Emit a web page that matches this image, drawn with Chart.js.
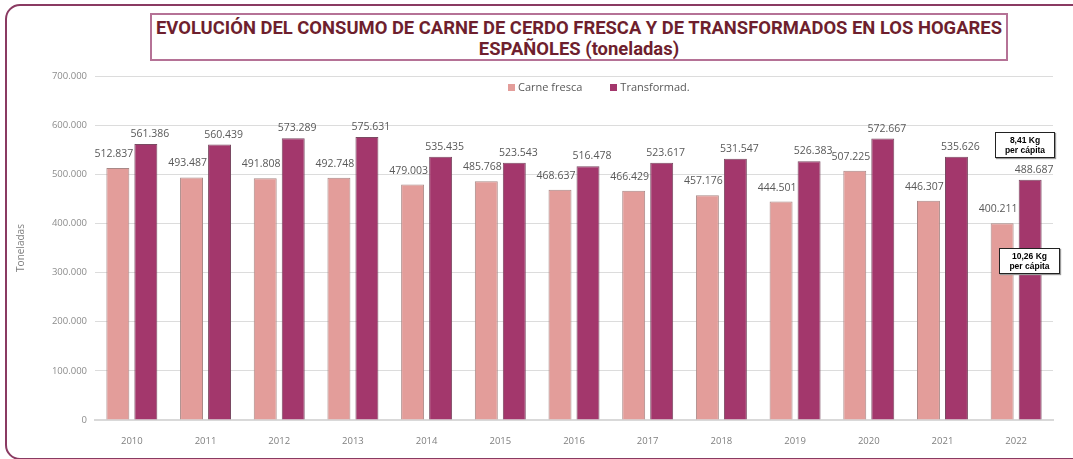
<!DOCTYPE html>
<html>
<head>
<meta charset="utf-8">
<script src="https://cdn.jsdelivr.net/npm/chart.js@4.4.1/dist/chart.umd.min.js"></script>
<style>
  html, body { margin: 0; padding: 0; background: #fff; }
  #wrap { position: relative; width: 1073px; height: 459px; overflow: hidden; }
  #frame {
    position: absolute; left: 5px; top: 4px; width: 1120px; height: 452px;
    border: 2px solid #8a3a62; border-radius: 15px;
  }
  #title {
    position: absolute; left: 150px; top: 13px; width: 854px; height: 44px;
    border: 2px solid #b57296; background: #fff; overflow: hidden;
  }
  #titleText {
    position: absolute; left: 50%; top: 2px; width: max-content;
    font-family: Roboto, "Liberation Sans", sans-serif;
    font-weight: bold; font-size: 19px; line-height: 21px; color: #6e1f2e;
    text-align: center; white-space: nowrap; transform-origin: 0 0;
    transform: translateX(-50%);
  }
  #legend {
    position: absolute; left: 508px; top: 79px;
    font-family: "Open Sans", sans-serif; font-size: 11px; color: #595959;
  }
  #legend span.item { margin-right: 28px; }
  #legend i { display: inline-block; width: 7px; height: 7px; margin-right: 3px; vertical-align: 0px; }
  .note {
    position: absolute; background: #fff; border: 1px solid #222;
    font-family: "Liberation Sans", Arial, sans-serif; font-weight: bold;
    font-size: 8.5px; line-height: 10px; text-align: center; color: #000;
    box-shadow: 1px 1px 1px #999;
  }
  canvas { position: absolute; left: 0; top: 0; }
</style>
</head>
<body>
<div id="wrap">
  <div id="frame"></div>
  <canvas id="chart" width="1073" height="459"></canvas>
  <div id="title"><div id="titleText"><span id="t1">EVOLUCIÓN DEL CONSUMO DE CARNE DE CERDO FRESCA Y DE TRANSFORMADOS EN LOS HOGARES</span><br>ESPAÑOLES (toneladas)</div></div>
  <div id="legend"></div>
  <div class="note" style="left:995px; top:132px; width:58px; height:22px; padding-top:2px;">8,41 Kg<br>per cápita</div>
  <div class="note" style="left:999px; top:248px; width:59px; height:22px; padding-top:2px;">10,26 Kg<br>per cápita</div>
</div>
<script>
// --- Data ---
const years = ['2010', '2011', '2012', '2013', '2014', '2015', '2016', '2017', '2018', '2019', '2020', '2021', '2022'];
const carneFresca = [512837, 493487, 491808, 492748, 479003, 485768, 468637, 466429, 457176, 444501, 507225, 446307, 400211];
const transformados = [561386, 560439, 573289, 575631, 535435, 523543, 516478, 523617, 531547, 526383, 572667, 535626, 488687];
const seriesNames = ['Carne fresca', 'Transformad.'];
const yTicks = [0, 100000, 200000, 300000, 400000, 500000, 600000, 700000];

const COLORS = ['#e39d9a', '#a3376c'];
const EDGES = [['#d4847f', '#f0b4b1', '#d98f8b'], ['#8c2a5a', '#b2467c', '#8e2c5c']];

// format 512837 -> 512.837
function fmt(v) {
    return v.toString().replace(/\B(?=(\d{3})+(?!\d))/g, '.');
}

// squeeze the title to the condensed width of the original (after the font is in)
function fitTitle() {
    const t1 = document.getElementById('t1');
    const k = Math.min(846 / t1.offsetWidth, 1);
    document.getElementById('titleText').style.transform = `scaleX(${k}) translateX(-50%)`;
}
fitTitle();
document.fonts.load('bold 19px Roboto').then(fitTitle);

// --- Legend (html) ---
const legend = document.getElementById('legend');
seriesNames.forEach((name, i) => {
    legend.innerHTML += `<span class="item"><i style="background:${COLORS[i]}"></i>${name}</span>`;
});

// bar gradient to fake the excel 3d look
function barFill(idx) {
    return (ctx) => {
        const el = ctx.element;
        if (!el || el.width === undefined || isNaN(el.x)) return COLORS[idx];
        const c = ctx.chart.ctx;
        const x0 = el.x - el.width / 2, x1 = el.x + el.width / 2;
        const g = c.createLinearGradient(x0, 0, x1, 0);
        g.addColorStop(0, EDGES[idx][0]);
        g.addColorStop(0.15, COLORS[idx]);
        g.addColorStop(0.5, EDGES[idx][1]);
        g.addColorStop(0.85, COLORS[idx]);
        g.addColorStop(1, EDGES[idx][2]);
        return g;
    };
}

// --- Value labels above bars ---
const valueLabels = {
    id: 'valueLabels',
    afterDatasetsDraw(chart) {
        const ctx = chart.ctx;
        ctx.save();
        ctx.font = '10.5px "Open Sans", sans-serif';
        ctx.fillStyle = '#595959';
        ctx.textAlign = 'center';
        ctx.textBaseline = 'alphabetic';
        chart.data.datasets.forEach((ds, di) => {
            const meta = chart.getDatasetMeta(di);
            const dx = di === 0 ? -4 : 4;
            const dy = di === 0 ? 11 : 7;
            meta.data.forEach((bar, i) => {
                ctx.fillText(fmt(ds.data[i]), bar.x + dx, bar.y - dy);
            });
        });
        ctx.restore();
    }
};

// --- Chart ---
new Chart(document.getElementById('chart').getContext('2d'), {
    type: 'bar',
    data: {
        labels: years,
        datasets: [
            {
                label: seriesNames[0],
                data: carneFresca,
                backgroundColor: barFill(0),
                borderColor: '#a98886',
                borderWidth: 1,
                categoryPercentage: 0.76,
                barPercentage: 0.82
            },
            {
                label: seriesNames[1],
                data: transformados,
                backgroundColor: barFill(1),
                borderColor: '#7a4a62',
                borderWidth: 1,
                categoryPercentage: 0.76,
                barPercentage: 0.82
            }
        ]
    },
    options: {
        responsive: false,
        animation: false,
        layout: { padding: { top: 76, right: 20, bottom: 0, left: 0 } },
        plugins: {
            legend: { display: false },
            tooltip: { enabled: false }
        },
        scales: {
            x: {
                grid: { display: false },
                border: { color: '#d9d9d9', width: 2 },
                ticks: {
                    color: '#7f7f7f',
                    font: { family: '"Open Sans", sans-serif', size: 9.5 },
                    padding: 8
                },
                afterFit: (scale) => { scale.height = 39; }
            },
            y: {
                min: 0,
                max: 700000,
                afterBuildTicks: (scale) => { scale.ticks = yTicks.map(v => ({ value: v })); },
                grid: { color: '#dcdcdc', drawTicks: false },
                border: { display: false },
                ticks: {
                    color: '#8c8c8c',
                    font: { family: '"Open Sans", sans-serif', size: 9.5 },
                    padding: 8,
                    callback: (v) => fmt(v)
                },
                title: {
                    display: true,
                    text: 'Toneladas',
                    color: '#7f7f7f',
                    font: { family: '"Open Sans", sans-serif', size: 10 },
                    padding: { top: 15, bottom: 0 }
                },
                afterFit: (scale) => { scale.width = 95; }
            }
        }
    },
    plugins: [valueLabels]
});
</script>
</body>
</html>
